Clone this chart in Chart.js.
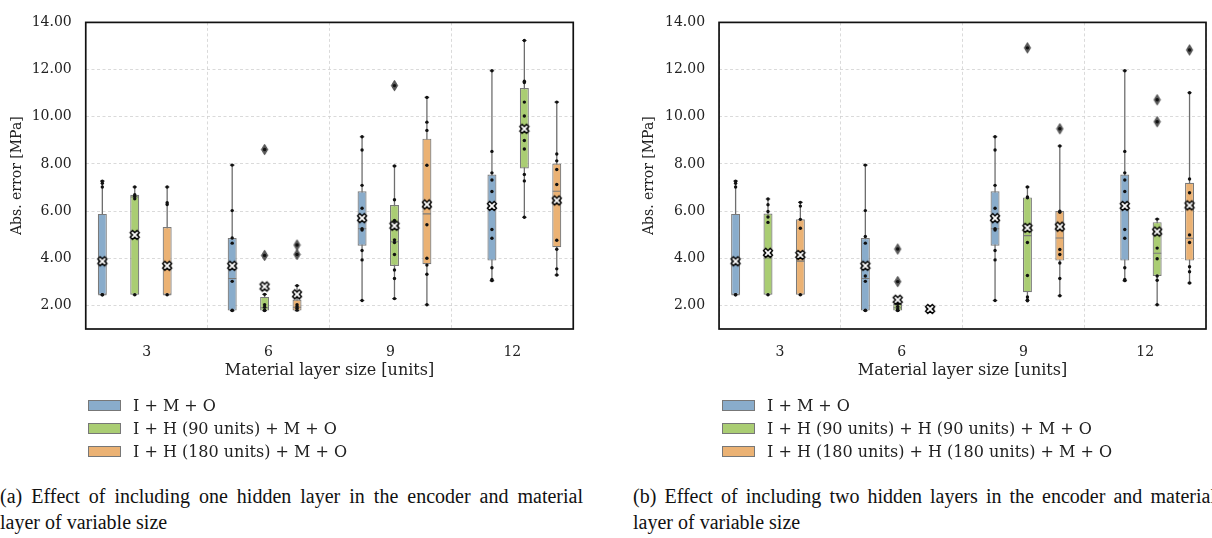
<!DOCTYPE html>
<html>
<head>
<meta charset="utf-8">
<script src="https://cdn.jsdelivr.net/npm/chart.js@4.4.0/dist/chart.umd.min.js"></script>
<style>
html, body { margin:0; padding:0; background:#fff; width:1212px; height:538px; overflow:hidden; position:relative; }
canvas { position:absolute; top:0; }
#chartA { left:0; }
#chartB { left:632px; }
.legend { position:absolute; top:0; font-family:'DejaVu Serif', serif; font-size:16px; color:#222; }
.legend .row { position:absolute; left:0; height:20px; white-space:nowrap; display:flex; align-items:center; }
.legend .sw { display:inline-block; width:31px; height:9px; border:1px solid #777; margin-right:12px; }
.cap { position:absolute; font-family:'Liberation Serif', serif; font-size:20px; line-height:27px; color:#111; width:583px; white-space:nowrap; }
.cap.j { text-align:justify; text-align-last:justify; white-space:normal; }
</style>
</head>
<body>
<canvas id="chartA" width="600" height="400"></canvas>
<canvas id="chartB" width="580" height="400"></canvas>
<div id="legA" class="legend" style="left:88px"></div>
<div id="legB" class="legend" style="left:722px"></div>
<div class="cap j" style="left:0;top:483px">(a) Effect of including one hidden layer in the encoder and material</div>
<div class="cap" style="left:0;top:509px">layer of variable size</div>
<div class="cap j" style="left:633px;top:483px">(b) Effect of including two hidden layers in the encoder and material</div>
<div class="cap" style="left:633px;top:509px">layer of variable size</div>
<script>
// ---------------- data ----------------
const categories = ['3', '6', '9', '12'];
const yTickValues = [2, 4, 6, 8, 10, 12, 14];
const seriesA = ['I + M + O', 'I + H (90 units) + M + O', 'I + H (180 units) + M + O'];
const seriesB = ['I + M + O', 'I + H (90 units) + H (90 units) + M + O', 'I + H (180 units) + H (180 units) + M + O'];

// panel (a): rows = series, columns = categories
const aWhiskerLow  = [[2.45, 1.78, 2.21, 3.05], [2.45, 1.78, 2.29, 5.74], [2.45, 1.78, 2.03, 3.29]];
const aQ1          = [[2.45, 1.78, 4.53, 3.90], [2.45, 1.78, 3.67, 7.81], [2.45, 1.78, 3.75, 4.47]];
const aMedian      = [[2.45, 3.14, 5.25, 6.10], [6.60, 1.90, 4.70, 9.50], [2.45, 1.92, 5.88, 6.84]];
const aQ3          = [[5.88, 4.86, 6.84, 7.55], [6.69, 2.36, 6.26, 11.22], [5.32, 2.25, 9.07, 8.02]];
const aWhiskerHigh = [[7.27, 7.95, 9.15, 11.95], [7.02, 2.47, 7.91, 13.23], [7.02, 2.84, 10.82, 10.62]];
const aMean        = [[3.87, 3.68, 5.70, 6.22], [4.99, 2.80, 5.38, 9.49], [3.68, 2.47, 6.28, 6.45]];
const aOutliers    = [[[], [], [], []], [[], [8.61, 4.12], [11.32], []], [[], [4.56, 4.16], [], []]];
const aPoints = [
  [[7.27, 7.18, 7.02, 2.45, 2.45], [7.95, 6.02, 4.86, 4.64, 3.70, 3.02, 1.80, 1.78], [9.15, 8.59, 7.09, 6.12, 5.25, 5.20, 4.33, 3.93, 2.21], [11.95, 8.53, 7.62, 7.32, 6.83, 5.22, 4.85, 3.60, 3.10, 3.05]],
  [[7.02, 6.69, 6.62, 6.52, 2.45], [2.47, 2.03, 1.92, 1.80, 1.78], [7.91, 6.48, 5.60, 4.78, 4.67, 4.16, 3.50, 3.14, 2.29], [13.23, 11.51, 11.45, 10.62, 10.03, 8.99, 8.63, 7.55, 7.28, 5.74]],
  [[7.02, 6.35, 6.28, 2.45], [2.84, 2.03, 1.95, 1.88, 1.80], [10.82, 9.77, 9.42, 7.94, 5.42, 4.00, 3.71, 3.32, 2.03], [10.62, 8.42, 8.13, 7.76, 7.13, 4.76, 4.38, 3.55, 3.29]]
];

// panel (b)
const bWhiskerLow  = [[2.45, 1.78, 2.21, 3.05], [2.45, 1.78, 2.21, 2.03], [2.45, 1.78, 2.41, 2.95]];
const bQ1          = [[2.45, 1.78, 4.53, 3.90], [2.45, 1.78, 2.56, 3.25], [2.45, 1.80, 3.90, 3.90]];
const bMedian      = [[2.45, 3.14, 5.25, 6.10], [4.01, 1.90, 4.96, 4.21], [3.88, 1.85, 4.86, 4.85]];
const bQ3          = [[5.88, 4.86, 6.84, 7.55], [5.90, 2.06, 6.58, 5.53], [5.65, 1.90, 6.00, 7.20]];
const bWhiskerHigh = [[7.27, 7.95, 9.15, 11.95], [6.51, 2.06, 7.02, 5.66], [6.37, 1.92, 8.76, 11.02]];
const bMean        = [[3.87, 3.68, 5.70, 6.22], [4.23, 2.24, 5.29, 5.13], [4.14, 1.85, 5.34, 6.24]];
const bOutliers    = [[[], [], [], []], [[], [4.39, 3.01], [12.92], [10.72, 9.79]], [[], [], [9.49], [12.83]]];
const bPoints = [
  [[7.27, 7.18, 7.02, 2.45, 2.45], [7.95, 6.02, 4.92, 4.64, 3.25, 3.02, 1.80, 1.78], [9.15, 8.59, 7.09, 6.12, 5.25, 5.20, 4.33, 3.93, 2.21], [11.95, 8.53, 7.62, 7.32, 6.83, 5.22, 4.85, 3.60, 3.10, 3.05]],
  [[6.51, 6.27, 5.98, 5.75, 5.52, 2.45], [2.06, 1.95, 1.85, 1.80, 1.78], [7.02, 6.60, 6.56, 4.67, 3.27, 2.36, 2.24, 2.20], [5.66, 4.43, 3.98, 3.25, 3.07, 2.03]],
  [[6.37, 6.21, 5.65, 5.27, 2.45], [1.92, 1.88, 1.84, 1.80, 1.78], [8.76, 6.00, 5.95, 4.37, 4.16, 3.80, 3.14, 2.41], [11.02, 7.36, 6.78, 4.99, 4.67, 3.64, 3.43, 2.95]]
];

// ---------------- styling / layout ----------------
const COLORS = ['#89accb', '#aacd73', '#ebb274'];
const EDGE = '#7a7a7a';
const GROUP_STEP = 1.0656;                 // box group spacing (in tick units)
const BOX_OFFSETS = [-0.364, -0.098, 0.168];
const FONT = "'DejaVu Serif', serif";
const TXT = '#222';

function makeXMarker(S, lw) {
  const size = Math.ceil(S + lw * 2 + 2);
  const c = document.createElement('canvas');
  c.width = c.height = size;
  const g = c.getContext('2d');
  const v = [[-1,-2],[0,-1],[1,-2],[2,-1],[1,0],[2,1],[1,2],[0,1],[-1,2],[-2,1],[-1,0],[-2,-1]];
  g.translate(size / 2, size / 2);
  g.beginPath();
  v.forEach((p, i) => { const x = p[0] / 4 * S, y = p[1] / 4 * S; i ? g.lineTo(x, y) : g.moveTo(x, y); });
  g.closePath();
  g.fillStyle = '#fff'; g.fill();
  g.lineWidth = lw; g.strokeStyle = '#000'; g.lineJoin = 'miter'; g.stroke();
  return c;
}
function makeDiamond(w, h) {
  const c = document.createElement('canvas');
  c.width = Math.ceil(w + 2); c.height = Math.ceil(h + 2);
  const g = c.getContext('2d');
  const cx = c.width / 2, cy = c.height / 2;
  g.beginPath();
  g.moveTo(cx, cy - h / 2); g.lineTo(cx + w / 2, cy); g.lineTo(cx, cy + h / 2); g.lineTo(cx - w / 2, cy); g.closePath();
  g.fillStyle = '#595959'; g.fill();
  g.lineWidth = 0.8; g.strokeStyle = '#444'; g.stroke();
  return c;
}
const meanMarker = makeXMarker(9, 1.4);
const flierMarker = makeDiamond(6.4, 10.6);

const framePlugin = {
  id: 'frame',
  afterDatasetsDraw(chart) {
    const { ctx, chartArea: a } = chart;
    ctx.save();
    ctx.strokeStyle = '#111';
    ctx.lineWidth = 1.7;
    ctx.strokeRect(a.left, a.top, a.right - a.left, a.bottom - a.top);
    ctx.restore();
  }
};

function buildPanel(canvasId, P, geom) {
  const datasets = [];
  const pos = (h, g) => g * GROUP_STEP + BOX_OFFSETS[h];
  for (let h = 0; h < 3; h++) {
    const whisk = [], caps = [], boxes = [], meds = [], fliers = [], dots = [], means = [];
    for (let g = 0; g < 4; g++) {
      const x = pos(h, g);
      whisk.push({ x, y: P.lo[h][g] }, { x, y: P.hi[h][g] }, { x, y: null });
      caps.push({ x, y: P.lo[h][g] }, { x, y: P.hi[h][g] });
      boxes.push({ x, y: [P.q1[h][g], P.q3[h][g]] });
      meds.push({ x, y: P.med[h][g] });
      P.out[h][g].forEach(v => fliers.push({ x, y: v }));
      P.pts[h][g].concat(P.out[h][g]).forEach(v => dots.push({ x, y: v }));
      means.push({ x, y: P.mean[h][g] });
    }
    datasets.push(
      { type: 'line', label: 'whiskers', data: whisk, borderColor: '#6e6e6e', borderWidth: 1.3, pointRadius: 0, spanGaps: false, fill: false, order: 10 },
      { type: 'scatter', label: 'caps', data: caps, pointStyle: 'line', pointRadius: 2.3, pointBorderColor: '#555', pointBorderWidth: 1.1, order: 9 },
      { type: 'bar', label: P.names[h], data: boxes, backgroundColor: COLORS[h], borderColor: EDGE, borderWidth: 1.2, borderSkipped: false, grouped: false, maxBarThickness: 9, order: 8 },
      { type: 'scatter', label: 'median', data: meds, pointStyle: 'line', pointRadius: 4.1, pointBorderColor: '#7a7a7a', pointBorderWidth: 1.1, order: 7 },
      { type: 'scatter', label: 'outliers', data: fliers, pointStyle: flierMarker, pointRadius: 5, order: 6 },
      { type: 'scatter', label: 'points', data: dots, pointStyle: 'circle', pointRadius: 1.7, pointBackgroundColor: '#111', pointBorderColor: '#111', pointBorderWidth: 0, order: 5 },
      { type: 'scatter', label: 'mean', data: means, pointStyle: meanMarker, pointRadius: 5, order: 4 }
    );
  }
  const gridOpts = { color: '#d0d0d0', lineWidth: 0.8, drawTicks: false };
  return new Chart(document.getElementById(canvasId), {
    type: 'bar',
    data: { datasets },
    plugins: [framePlugin],
    options: {
      responsive: false, animation: false, devicePixelRatio: 1, events: [],
      layout: { padding: { top: 13.7, right: geom.right, left: 0, bottom: 0 } },
      plugins: { legend: { display: false }, tooltip: { enabled: false } },
      scales: {
        x: {
          type: 'linear', min: -0.5, max: 3.5, offset: false,
          afterBuildTicks: s => { s.ticks = categories.map((c, i) => ({ value: i })); },
          afterFit: s => { s.height = 71; },
          ticks: { callback: (v, i) => categories[i], font: { family: FONT, size: 14 }, color: TXT, padding: 14.5, autoSkip: false, maxRotation: 0 },
          grid: gridOpts,
          border: { display: false, dash: [3, 2.5] },
          title: { display: true, text: 'Material layer size [units]', font: { family: FONT, size: 16 }, color: TXT, padding: { top: 0, bottom: 19.6 } }
        },
        y: {
          type: 'linear', min: 1, max: 14,
          afterBuildTicks: s => { s.ticks = yTickValues.map(v => ({ value: v })); },
          afterFit: s => { s.width = geom.yWidth; },
          ticks: { callback: v => Number(v).toFixed(2), font: { family: FONT, size: 14 }, color: TXT, padding: 14 },
          grid: gridOpts,
          border: { display: false, dash: [3, 2.5] },
          title: { display: true, text: 'Abs. error [MPa]', font: { family: FONT, size: 14 }, color: TXT, padding: { top: 9, bottom: 0 } }
        }
      }
    }
  });
}

function buildLegend(id, names) {
  const el = document.getElementById(id);
  const centers = [405.8, 428.8, 451.8];
  names.forEach((n, i) => {
    const row = document.createElement('div');
    row.className = 'row';
    row.style.top = (centers[i] - 10) + 'px';
    const sw = document.createElement('span');
    sw.className = 'sw';
    sw.style.background = COLORS[i];
    row.appendChild(sw);
    row.appendChild(document.createTextNode(n));
    el.appendChild(row);
  });
}

buildPanel('chartA', { names: seriesA, lo: aWhiskerLow, q1: aQ1, med: aMedian, q3: aQ3, hi: aWhiskerHigh, mean: aMean, out: aOutliers, pts: aPoints }, { yWidth: 85.75, right: 26.75 });
buildPanel('chartB', { names: seriesB, lo: bWhiskerLow, q1: bQ1, med: bMedian, q3: bQ3, hi: bWhiskerHigh, mean: bMean, out: bOutliers, pts: bPoints }, { yWidth: 87.05, right: 5.35 });
buildLegend('legA', seriesA);
buildLegend('legB', seriesB);
</script>
</body>
</html>
